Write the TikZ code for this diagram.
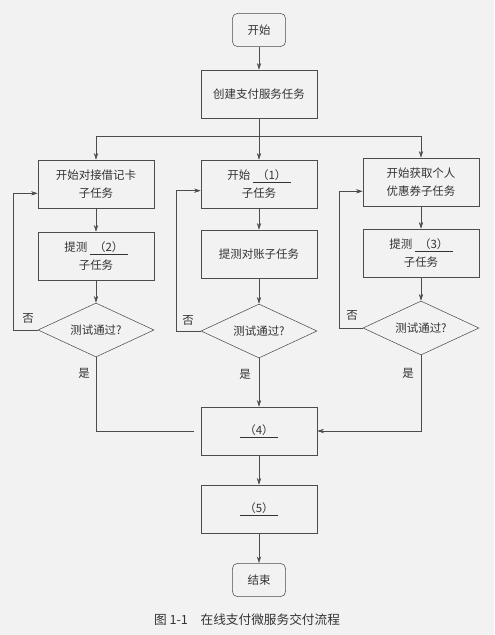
\documentclass[tikz,border=0pt]{standalone}
\usepackage{fontspec}
\setmainfont{Noto Sans CJK SC}
\usetikzlibrary{shapes.geometric,arrows.meta}
\tikzset{
  task/.style={draw=black!70, minimum width=87pt, minimum height=36pt, align=center, inner sep=2pt},
  term/.style={draw=black!70, rounded corners=4pt, minimum width=40pt, minimum height=25pt},
  test/.style={draw=black!70, diamond, aspect=2.15, inner sep=0pt, minimum width=87pt, minimum height=40.5pt},
  lbl/.style={inner sep=1pt},
  arr/.style={draw=black!70, -{Stealth[length=5pt,width=3.2pt]}},
  ln/.style={draw=black!70}
}
\newcommand{\blank}[1]{\underline{\makebox[3.3em]{（#1）}}}
\begin{document}
\begin{tikzpicture}[x=0.75pt,y=0.75pt,yscale=-1,xscale=1,font=\fontsize{8.6}{13.5}\selectfont,text=black!80]
        \useasboundingbox[fill=black!5] (0,0) rectangle (494,635);
        % main column
        \node[term] (start) at (259,30) {开始};
        \node[task] (create) at (259,94) {创建支付服务任务};
        \coordinate (split) at (259,136);
        % three sub tasks
        \node[task] (a1) at (96,184) {开始对接借记卡\\子任务};
        \node[task] (b1) at (259,184) {开始\ \blank{1}\\子任务};
        \node[task] (c1) at (421,182) {开始获取个人\\优惠券子任务};
        \node[task] (a2) at (96,256) {提测\ \blank{2}\\子任务};
        \node[task] (b2) at (259,254) {提测对账子任务};
        \node[task] (c2) at (421,253) {提测\ \blank{3}\\子任务};
        \node[test] (da) at (96,330) {测试通过?};
        \node[test] (db) at (259,331) {测试通过?};
        \node[test] (dc) at (421,328) {测试通过?};
        % merge and end
        \node[task] (box4) at (259,431) {\blank{4}};
        \node[task] (box5) at (259,509) {\blank{5}};
        \node[term] (stop) at (259,580) {结束};
        % labels
        \node[lbl] (noa) at (28,318) {否};
        \node[lbl] (nob) at (188,320) {否};
        \node[lbl] (noc) at (352,315) {否};
        \node[lbl] (yesa) at (84,373) {是};
        \node[lbl] (yesb) at (245,374) {是};
        \node[lbl] (yesc) at (408,373) {是};
        \node (cap) at (247,620) {\fontsize{9.5}{12}\selectfont 图 1-1\quad 在线支付微服务交付流程};
        % connectors
        \draw[arr] (start) -- (create);
        \draw[ln] (create) -- (split);
        \draw[arr] (split) -- (b1);
        \draw[arr] (split) -| (a1);
        \draw[arr] (split) -| (c1);
        \draw[arr] (a1) -- (a2);
        \draw[arr] (b1) -- (b2);
        \draw[arr] (c1) -- (c2);
        \draw[arr] (a2) -- (da);
        \draw[arr] (b2) -- (db);
        \draw[arr] (c2) -- (dc);
        \draw[arr] (da.west) -- ++(-24,0) |- ([yshift=7pt]a1.west);
        \draw[arr] (db.west) -- ++(-24,0) |- ([yshift=5pt]b1.west);
        \draw[arr] (dc.west) -- ++(-23,0) |- ([yshift=7pt]c1.west);
        \draw[ln, shorten >=5pt] (da.south) |- (box4.west);
        \draw[arr] (db.south) -- (box4);
        \draw[arr] (dc.south) |- (box4.east);
        \draw[arr] (box4) -- (box5);
        \draw[arr] (box5) -- (stop);
\end{tikzpicture}
\end{document}
